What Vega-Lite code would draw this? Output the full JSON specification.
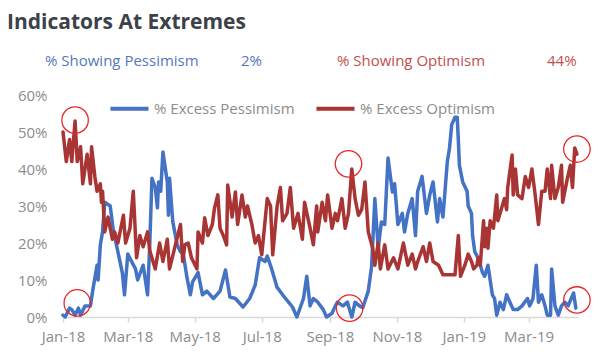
{
  "$schema": "https://vega.github.io/schema/vega-lite/v6.json",
  "width": 515,
  "height": 222,
  "autosize": "none",
  "padding": {"left": 63, "top": 95, "right": 22, "bottom": 46},
  "background": "white",
  "title": {
    "text": "Indicators At Extremes",
    "anchor": "start",
    "frame": "group",
    "font": "Open Sans",
    "fontSize": 21,
    "fontWeight": "bold",
    "color": "#3d4149",
    "dx": -56,
    "offset": 21
  },
  "config": {
    "view": {"stroke": null},
    "font": "Open Sans"
  },
  "datasets": {
    "pessimism": [
      {"date": "2018-01-01", "value": 0.5},
      {"date": "2018-01-03", "value": 0},
      {"date": "2018-01-07", "value": 2.4},
      {"date": "2018-01-09", "value": 2},
      {"date": "2018-01-12", "value": 0.5},
      {"date": "2018-01-15", "value": 2.4},
      {"date": "2018-01-17", "value": 0.5},
      {"date": "2018-01-21", "value": 3},
      {"date": "2018-01-26", "value": 3},
      {"date": "2018-01-28", "value": 7},
      {"date": "2018-02-01", "value": 14},
      {"date": "2018-02-02", "value": 10},
      {"date": "2018-02-04", "value": 19.5},
      {"date": "2018-02-06", "value": 23},
      {"date": "2018-02-08", "value": 31},
      {"date": "2018-02-13", "value": 30},
      {"date": "2018-02-16", "value": 23},
      {"date": "2018-02-19", "value": 19},
      {"date": "2018-02-24", "value": 12},
      {"date": "2018-02-26", "value": 6},
      {"date": "2018-03-01", "value": 17},
      {"date": "2018-03-08", "value": 13},
      {"date": "2018-03-10", "value": 10},
      {"date": "2018-03-15", "value": 14},
      {"date": "2018-03-19", "value": 6},
      {"date": "2018-03-21", "value": 19.5},
      {"date": "2018-03-23", "value": 37.5},
      {"date": "2018-03-26", "value": 35},
      {"date": "2018-03-28", "value": 29.5},
      {"date": "2018-03-29", "value": 36.5},
      {"date": "2018-03-31", "value": 34},
      {"date": "2018-04-02", "value": 44.6},
      {"date": "2018-04-06", "value": 36.5},
      {"date": "2018-04-07", "value": 27.5},
      {"date": "2018-04-08", "value": 37.5},
      {"date": "2018-04-11", "value": 25.7},
      {"date": "2018-04-15", "value": 19.5},
      {"date": "2018-04-18", "value": 17.6},
      {"date": "2018-04-20", "value": 18},
      {"date": "2018-04-24", "value": 10.5},
      {"date": "2018-04-27", "value": 6},
      {"date": "2018-04-29", "value": 9.5},
      {"date": "2018-05-04", "value": 12},
      {"date": "2018-05-08", "value": 6},
      {"date": "2018-05-12", "value": 7},
      {"date": "2018-05-18", "value": 5},
      {"date": "2018-05-24", "value": 7},
      {"date": "2018-05-29", "value": 12.7},
      {"date": "2018-06-02", "value": 5.4},
      {"date": "2018-06-07", "value": 5},
      {"date": "2018-06-14", "value": 2.7},
      {"date": "2018-06-20", "value": 5},
      {"date": "2018-06-25", "value": 8.6},
      {"date": "2018-06-29", "value": 16},
      {"date": "2018-07-04", "value": 15},
      {"date": "2018-07-06", "value": 16.5},
      {"date": "2018-07-10", "value": 13},
      {"date": "2018-07-15", "value": 8},
      {"date": "2018-07-20", "value": 6},
      {"date": "2018-07-29", "value": 2.7},
      {"date": "2018-08-02", "value": 0},
      {"date": "2018-08-08", "value": 5},
      {"date": "2018-08-11", "value": 11},
      {"date": "2018-08-14", "value": 3},
      {"date": "2018-08-17", "value": 5},
      {"date": "2018-08-21", "value": 4},
      {"date": "2018-08-26", "value": 2},
      {"date": "2018-08-29", "value": 0},
      {"date": "2018-09-03", "value": 1},
      {"date": "2018-09-06", "value": 3},
      {"date": "2018-09-08", "value": 4},
      {"date": "2018-09-13", "value": 3},
      {"date": "2018-09-17", "value": 4},
      {"date": "2018-09-21", "value": 0},
      {"date": "2018-09-24", "value": 4},
      {"date": "2018-09-28", "value": 3},
      {"date": "2018-10-01", "value": 2.5},
      {"date": "2018-10-06", "value": 7},
      {"date": "2018-10-09", "value": 13.5},
      {"date": "2018-10-12", "value": 32},
      {"date": "2018-10-15", "value": 18.6},
      {"date": "2018-10-18", "value": 25.7},
      {"date": "2018-10-21", "value": 25},
      {"date": "2018-10-24", "value": 43},
      {"date": "2018-10-28", "value": 33.8},
      {"date": "2018-10-30", "value": 36},
      {"date": "2018-11-02", "value": 25},
      {"date": "2018-11-06", "value": 28},
      {"date": "2018-11-08", "value": 23},
      {"date": "2018-11-11", "value": 28},
      {"date": "2018-11-15", "value": 32},
      {"date": "2018-11-18", "value": 22},
      {"date": "2018-11-20", "value": 34},
      {"date": "2018-11-24", "value": 38},
      {"date": "2018-11-28", "value": 28},
      {"date": "2018-12-01", "value": 33},
      {"date": "2018-12-04", "value": 36.5},
      {"date": "2018-12-08", "value": 25.7},
      {"date": "2018-12-10", "value": 32},
      {"date": "2018-12-13", "value": 27},
      {"date": "2018-12-17", "value": 42},
      {"date": "2018-12-19", "value": 45.7},
      {"date": "2018-12-21", "value": 52},
      {"date": "2018-12-24", "value": 54},
      {"date": "2018-12-26", "value": 54},
      {"date": "2018-12-27", "value": 48},
      {"date": "2018-12-28", "value": 41},
      {"date": "2018-12-31", "value": 36.5},
      {"date": "2019-01-04", "value": 34},
      {"date": "2019-01-05", "value": 30},
      {"date": "2019-01-08", "value": 28},
      {"date": "2019-01-09", "value": 22},
      {"date": "2019-01-11", "value": 17.6},
      {"date": "2019-01-14", "value": 16},
      {"date": "2019-01-18", "value": 12},
      {"date": "2019-01-20", "value": 11},
      {"date": "2019-01-23", "value": 14},
      {"date": "2019-01-27", "value": 6},
      {"date": "2019-01-29", "value": 5},
      {"date": "2019-01-31", "value": 0.5},
      {"date": "2019-02-03", "value": 4},
      {"date": "2019-02-06", "value": 2},
      {"date": "2019-02-09", "value": 6},
      {"date": "2019-02-12", "value": 4},
      {"date": "2019-02-15", "value": 2},
      {"date": "2019-02-19", "value": 2},
      {"date": "2019-02-23", "value": 3},
      {"date": "2019-02-28", "value": 5},
      {"date": "2019-03-02", "value": 3},
      {"date": "2019-03-05", "value": 5},
      {"date": "2019-03-08", "value": 14},
      {"date": "2019-03-10", "value": 4},
      {"date": "2019-03-13", "value": 6},
      {"date": "2019-03-16", "value": 3},
      {"date": "2019-03-18", "value": 0.5},
      {"date": "2019-03-21", "value": 0.5},
      {"date": "2019-03-22", "value": 13},
      {"date": "2019-03-25", "value": 3},
      {"date": "2019-03-28", "value": 0.5},
      {"date": "2019-03-31", "value": 3},
      {"date": "2019-04-03", "value": 4},
      {"date": "2019-04-06", "value": 3},
      {"date": "2019-04-11", "value": 6.5},
      {"date": "2019-04-13", "value": 2.4}
    ],
    "optimism": [
      {"date": "2018-01-01", "value": 50},
      {"date": "2018-01-04", "value": 42},
      {"date": "2018-01-07", "value": 48},
      {"date": "2018-01-09", "value": 42},
      {"date": "2018-01-12", "value": 53},
      {"date": "2018-01-14", "value": 42},
      {"date": "2018-01-17", "value": 46},
      {"date": "2018-01-19", "value": 36},
      {"date": "2018-01-23", "value": 44},
      {"date": "2018-01-26", "value": 36},
      {"date": "2018-01-27", "value": 46},
      {"date": "2018-01-30", "value": 38},
      {"date": "2018-02-01", "value": 34},
      {"date": "2018-02-04", "value": 36},
      {"date": "2018-02-05", "value": 31},
      {"date": "2018-02-06", "value": 34},
      {"date": "2018-02-08", "value": 23},
      {"date": "2018-02-11", "value": 27},
      {"date": "2018-02-15", "value": 21},
      {"date": "2018-02-17", "value": 23},
      {"date": "2018-02-20", "value": 20},
      {"date": "2018-02-25", "value": 27.5},
      {"date": "2018-02-27", "value": 20},
      {"date": "2018-03-03", "value": 24},
      {"date": "2018-03-06", "value": 34},
      {"date": "2018-03-09", "value": 16},
      {"date": "2018-03-12", "value": 22},
      {"date": "2018-03-15", "value": 19},
      {"date": "2018-03-19", "value": 23},
      {"date": "2018-03-21", "value": 18},
      {"date": "2018-03-26", "value": 13},
      {"date": "2018-03-30", "value": 20},
      {"date": "2018-04-02", "value": 15},
      {"date": "2018-04-06", "value": 21},
      {"date": "2018-04-08", "value": 13},
      {"date": "2018-04-13", "value": 19},
      {"date": "2018-04-18", "value": 25},
      {"date": "2018-04-20", "value": 15},
      {"date": "2018-04-22", "value": 19.5},
      {"date": "2018-04-25", "value": 20},
      {"date": "2018-04-28", "value": 16},
      {"date": "2018-05-03", "value": 13},
      {"date": "2018-05-04", "value": 23},
      {"date": "2018-05-08", "value": 20},
      {"date": "2018-05-10", "value": 26.8},
      {"date": "2018-05-13", "value": 22},
      {"date": "2018-05-17", "value": 25},
      {"date": "2018-05-19", "value": 29.5},
      {"date": "2018-05-22", "value": 33},
      {"date": "2018-05-24", "value": 24},
      {"date": "2018-05-27", "value": 22},
      {"date": "2018-05-30", "value": 19.5},
      {"date": "2018-05-31", "value": 35.7},
      {"date": "2018-06-04", "value": 27},
      {"date": "2018-06-07", "value": 33.8},
      {"date": "2018-06-09", "value": 25},
      {"date": "2018-06-13", "value": 33},
      {"date": "2018-06-16", "value": 27},
      {"date": "2018-06-18", "value": 30},
      {"date": "2018-06-22", "value": 25},
      {"date": "2018-06-25", "value": 20},
      {"date": "2018-06-28", "value": 22},
      {"date": "2018-07-01", "value": 16.8},
      {"date": "2018-07-06", "value": 32},
      {"date": "2018-07-09", "value": 30},
      {"date": "2018-07-11", "value": 16.8},
      {"date": "2018-07-15", "value": 30},
      {"date": "2018-07-18", "value": 35},
      {"date": "2018-07-20", "value": 26},
      {"date": "2018-07-24", "value": 28},
      {"date": "2018-07-27", "value": 35},
      {"date": "2018-07-30", "value": 24},
      {"date": "2018-08-03", "value": 28},
      {"date": "2018-08-07", "value": 21},
      {"date": "2018-08-09", "value": 31},
      {"date": "2018-08-14", "value": 24},
      {"date": "2018-08-17", "value": 19.5},
      {"date": "2018-08-20", "value": 30},
      {"date": "2018-08-21", "value": 23},
      {"date": "2018-08-25", "value": 31},
      {"date": "2018-08-28", "value": 26},
      {"date": "2018-08-30", "value": 33},
      {"date": "2018-09-03", "value": 24},
      {"date": "2018-09-06", "value": 28},
      {"date": "2018-09-08", "value": 26},
      {"date": "2018-09-12", "value": 32},
      {"date": "2018-09-15", "value": 24},
      {"date": "2018-09-18", "value": 28},
      {"date": "2018-09-21", "value": 40},
      {"date": "2018-09-24", "value": 32},
      {"date": "2018-09-27", "value": 27.5},
      {"date": "2018-09-30", "value": 29},
      {"date": "2018-10-03", "value": 36.5},
      {"date": "2018-10-06", "value": 23},
      {"date": "2018-10-10", "value": 18.6},
      {"date": "2018-10-12", "value": 14},
      {"date": "2018-10-15", "value": 20},
      {"date": "2018-10-17", "value": 13},
      {"date": "2018-10-21", "value": 19.5},
      {"date": "2018-10-24", "value": 13},
      {"date": "2018-10-29", "value": 16},
      {"date": "2018-11-02", "value": 13},
      {"date": "2018-11-07", "value": 20},
      {"date": "2018-11-11", "value": 14},
      {"date": "2018-11-15", "value": 17},
      {"date": "2018-11-18", "value": 13},
      {"date": "2018-11-20", "value": 15},
      {"date": "2018-11-25", "value": 19},
      {"date": "2018-11-28", "value": 15},
      {"date": "2018-12-01", "value": 20},
      {"date": "2018-12-04", "value": 15},
      {"date": "2018-12-09", "value": 14},
      {"date": "2018-12-13", "value": 11.4},
      {"date": "2018-12-19", "value": 11.4},
      {"date": "2018-12-24", "value": 11.4},
      {"date": "2018-12-27", "value": 22},
      {"date": "2018-12-29", "value": 11},
      {"date": "2019-01-02", "value": 14},
      {"date": "2019-01-05", "value": 17},
      {"date": "2019-01-08", "value": 15},
      {"date": "2019-01-10", "value": 13},
      {"date": "2019-01-13", "value": 14},
      {"date": "2019-01-14", "value": 16},
      {"date": "2019-01-16", "value": 14},
      {"date": "2019-01-18", "value": 22},
      {"date": "2019-01-19", "value": 26},
      {"date": "2019-01-20", "value": 19},
      {"date": "2019-01-22", "value": 24},
      {"date": "2019-01-23", "value": 18.6},
      {"date": "2019-01-25", "value": 26},
      {"date": "2019-01-28", "value": 24},
      {"date": "2019-01-31", "value": 33},
      {"date": "2019-02-01", "value": 26},
      {"date": "2019-02-05", "value": 30},
      {"date": "2019-02-07", "value": 32},
      {"date": "2019-02-09", "value": 29},
      {"date": "2019-02-10", "value": 35},
      {"date": "2019-02-14", "value": 43.8},
      {"date": "2019-02-15", "value": 33},
      {"date": "2019-02-17", "value": 40},
      {"date": "2019-02-19", "value": 33},
      {"date": "2019-02-23", "value": 32},
      {"date": "2019-02-26", "value": 38},
      {"date": "2019-03-01", "value": 35},
      {"date": "2019-03-04", "value": 40},
      {"date": "2019-03-07", "value": 33},
      {"date": "2019-03-10", "value": 25},
      {"date": "2019-03-13", "value": 34},
      {"date": "2019-03-16", "value": 34},
      {"date": "2019-03-18", "value": 40},
      {"date": "2019-03-21", "value": 32},
      {"date": "2019-03-22", "value": 41},
      {"date": "2019-03-25", "value": 32},
      {"date": "2019-03-28", "value": 35},
      {"date": "2019-03-31", "value": 41},
      {"date": "2019-04-01", "value": 31},
      {"date": "2019-04-05", "value": 37},
      {"date": "2019-04-08", "value": 41},
      {"date": "2019-04-10", "value": 35},
      {"date": "2019-04-12", "value": 45.7},
      {"date": "2019-04-14", "value": 44}
    ],
    "extremes": [
      {"date": "2018-01-12", "value": 53.2},
      {"date": "2018-01-14", "value": 3.8},
      {"date": "2018-09-18", "value": 41.4},
      {"date": "2018-09-19", "value": 2.4},
      {"date": "2019-04-14", "value": 45.4},
      {"date": "2019-04-14", "value": 4.6}
    ],
    "header": [
      {"series": "Pessimism", "label": "% Showing Pessimism", "reading": "2%"},
      {"series": "Optimism", "label": "% Showing Optimism", "reading": "44%"}
    ]
  },
  "resolve": {"scale": {"x": "independent", "y": "independent", "color": "independent"}, "axis": {"x": "independent", "y": "independent"}},
  "layer": [
    {
      "encoding": {
        "x": {
          "field": "date",
          "type": "temporal",
          "scale": {"domain": [{"year": 2018, "month": 1, "date": 1}, {"year": 2019, "month": 4, "date": 15}]},
          "axis": {
            "title": null,
            "values": [
              {"year": 2018, "month": 1, "date": 1},
              {"year": 2018, "month": 3, "date": 1},
              {"year": 2018, "month": 5, "date": 1},
              {"year": 2018, "month": 7, "date": 1},
              {"year": 2018, "month": 9, "date": 1},
              {"year": 2018, "month": 11, "date": 1},
              {"year": 2019, "month": 1, "date": 1},
              {"year": 2019, "month": 3, "date": 1}
            ],
            "format": "%b-%y",
            "labelFlush": false,
            "labelOverlap": false,
            "grid": false,
            "domainColor": "#d9d9d9",
            "domainWidth": 1.5,
            "tickColor": "#d9d9d9",
            "tickWidth": 1.5,
            "tickSize": 5,
            "labelFont": "Open Sans",
            "labelFontSize": 15,
            "labelColor": "#8c8c8c",
            "labelPadding": 7
          }
        },
        "y": {
          "field": "value",
          "type": "quantitative",
          "scale": {"domain": [0, 60], "nice": false},
          "axis": {
            "title": null,
            "values": [0, 10, 20, 30, 40, 50, 60],
            "labelExpr": "datum.value + '%'",
            "labelOverlap": false,
            "labelFlush": false,
            "domain": false,
            "ticks": false,
            "grid": false,
            "labelFont": "Open Sans",
            "labelFontSize": 15,
            "labelColor": "#8c8c8c",
            "labelPadding": 16
          }
        }
      },
      "layer": [
        {
          "data": {"name": "pessimism"},
          "mark": {"type": "line", "strokeWidth": 3.5, "strokeJoin": "round", "strokeCap": "round"},
          "encoding": {
            "color": {
              "datum": "% Excess Pessimism",
              "scale": {"domain": ["% Excess Pessimism", "% Excess Optimism"], "range": ["#4472C4", "#A93434"]},
              "legend": {
                "title": null,
                "orient": "none",
                "legendX": 45,
                "legendY": -8,
                "direction": "horizontal",
                "symbolType": "stroke",
                "symbolStrokeWidth": 4,
                "symbolSize": 1450,
                "labelFont": "Open Sans",
                "labelFontSize": 15,
                "labelColor": "#8c8c8c",
                "labelOffset": 3,
                "columnPadding": 13
              }
            }
          }
        },
        {
          "data": {"name": "optimism"},
          "mark": {"type": "line", "strokeWidth": 3.5, "strokeJoin": "round", "strokeCap": "round"},
          "encoding": {
            "color": {"datum": "% Excess Optimism"}
          }
        },
        {
          "data": {"name": "extremes"},
          "mark": {"type": "point", "shape": "circle", "filled": false, "color": "#e8262a", "strokeWidth": 1.3, "size": 700, "opacity": 1}
        }
      ]
    },
    {
      "data": {"name": "header"},
      "mark": {"type": "text", "align": "left", "baseline": "middle", "font": "Open Sans", "fontSize": 15},
      "encoding": {
        "x": {"field": "series", "type": "nominal", "scale": {"type": "point", "domain": ["Pessimism", "Optimism"], "range": [-18, 274], "padding": 0}, "axis": null},
        "y": {"datum": 69.2, "type": "quantitative", "scale": {"domain": [0, 60]}, "axis": null},
        "text": {"field": "label"},
        "color": {"field": "series", "type": "nominal", "scale": {"domain": ["Pessimism", "Optimism"], "range": ["#5577bb", "#c0504d"]}, "legend": null}
      }
    },
    {
      "data": {"name": "header"},
      "mark": {"type": "text", "align": "left", "baseline": "middle", "font": "Open Sans", "fontSize": 15},
      "encoding": {
        "x": {"field": "series", "type": "nominal", "scale": {"type": "point", "domain": ["Pessimism", "Optimism"], "range": [178, 484], "padding": 0}, "axis": null},
        "y": {"datum": 69.2, "type": "quantitative", "scale": {"domain": [0, 60]}, "axis": null},
        "text": {"field": "reading"},
        "color": {"field": "series", "type": "nominal", "scale": {"domain": ["Pessimism", "Optimism"], "range": ["#5577bb", "#c0504d"]}, "legend": null}
      }
    }
  ]
}
